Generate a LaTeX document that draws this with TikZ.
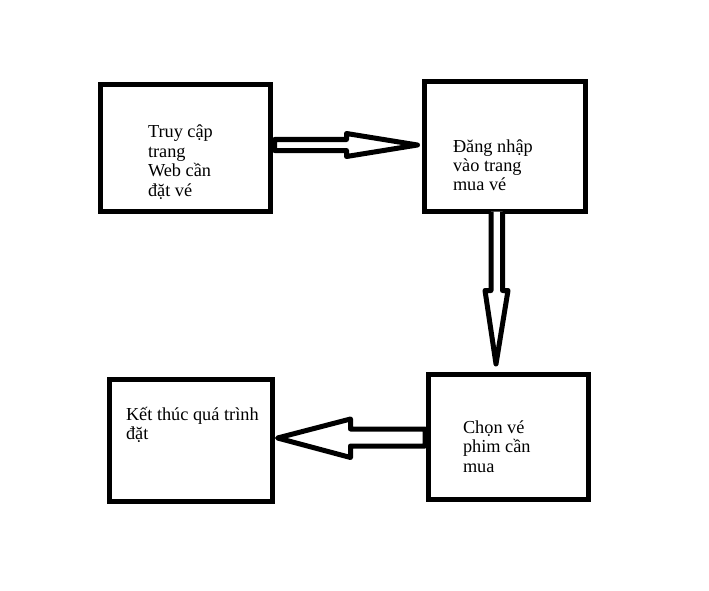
\documentclass[tikz,border=0pt]{standalone}
\usepackage{fontspec}
\setmainfont{Liberation Serif}
\begin{document}
\begin{tikzpicture}[x=1pt,y=-1pt,
  boxnode/.style={draw=black,line width=5pt,inner sep=0pt,outer sep=0pt,rectangle},
  txt/.style={inner sep=0pt,outer sep=0pt,anchor=base west,font=\fontsize{18.3}{19.5}\selectfont},
  blockarrow/.style={draw=black,fill=white,line width=5pt,line join=round}]
\useasboundingbox[fill=white] (0,0) rectangle (709,591);
% boxes
\node[boxnode,minimum width=170pt,minimum height=126.5pt] (b1) at (185,147.75) {};
\node[boxnode,minimum width=161pt,minimum height=130pt] (b2) at (505,146.5) {};
\node[boxnode,minimum width=160pt,minimum height=125pt] (b3) at (508.5,437) {};
\node[boxnode,minimum width=163pt,minimum height=122pt] (b4) at (191,440.5) {};
% texts
\node[txt] (t1) at (148,138) {\parbox[t]{120pt}{\baselineskip=19.5pt Truy cập\\trang\\Web cần\\đặt vé}};
\node[txt] (t2) at (453,152) {\parbox[t]{120pt}{\baselineskip=19.5pt Đăng nhập\\vào trang\\mua vé}};
\node[txt] (t3) at (463,433) {\parbox[t]{120pt}{\baselineskip=19.5pt Chọn vé\\phim cần\\mua}};
\node[txt] (t4) at (126,420) {\parbox[t]{150pt}{\baselineskip=19.5pt Kết thúc quá trình\\đặt}};
% block arrows
\draw[blockarrow] (274.5,139.5) -- (346.5,139.5) -- (346.5,133.5) -- (417.5,145)
  -- (346.5,156.5) -- (346.5,150.5) -- (274.5,150.5) -- cycle;
\draw[blockarrow] (491,211.5) -- (491,290.5) -- (485,290.5) -- (496,364)
  -- (508,290.5) -- (502.5,290.5) -- (502.5,211.5);
\draw[blockarrow] (425,429) -- (350.5,429) -- (350.5,419) -- (277.5,438)
  -- (350.5,457.5) -- (350.5,446) -- (425,446) -- cycle;
\end{tikzpicture}
\end{document}
